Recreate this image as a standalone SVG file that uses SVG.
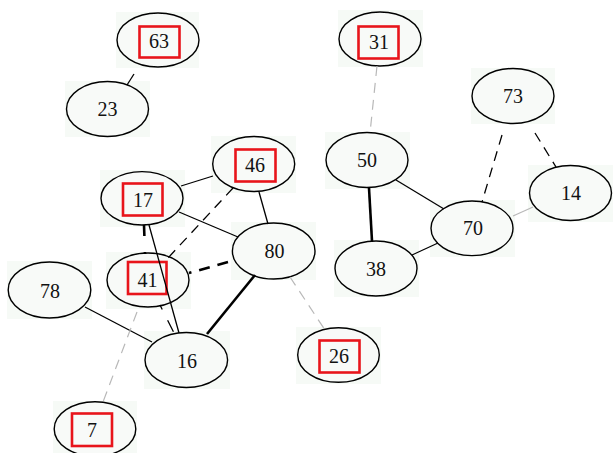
<svg xmlns="http://www.w3.org/2000/svg" width="613" height="453" viewBox="0 0 613 453">
<style>
.bg{fill:#f6faf6;stroke:none}
.n ellipse{fill:#f8faf8;stroke:#000;stroke-width:1.4}
.n text{font-family:"Liberation Serif","Times New Roman",serif;font-size:20px;fill:#111;text-anchor:middle}
.box{fill:none;stroke:#e8141b;stroke-width:2.6}
.e{stroke:#000;stroke-width:1.3;fill:none}
.thick{stroke-width:2.6}
.dash{stroke-dasharray:10,7}
.gray{stroke:#b8b8b8;stroke-width:1.2}
</style>
<rect width="613" height="453" fill="#fff"/>
<g id="nodes">
<g id="n63"><rect class="bg" x="116" y="12" width="83" height="56"/><g class="n"><ellipse cx="158" cy="40" rx="41" ry="27"/><text x="159" y="48">63</text></g><rect class="box" x="139.5" y="26.5" width="40" height="31"/></g>
<g id="n23"><rect class="bg" x="65" y="81" width="85" height="56"/><g class="n"><ellipse cx="107.5" cy="109" rx="41" ry="27.5"/><text x="107.5" y="116">23</text></g></g>
<g id="n31"><rect class="bg" x="338" y="10" width="85" height="57"/><g class="n"><ellipse cx="380" cy="39" rx="41" ry="27"/><text x="379" y="49">31</text></g><rect class="box" x="358.5" y="26.5" width="40" height="32"/></g>
<g id="n73"><rect class="bg" x="471" y="68" width="84" height="56"/><g class="n"><ellipse cx="513" cy="96" rx="41" ry="27.5"/><text x="513" y="103">73</text></g></g>
<g id="n46"><rect class="bg" x="211" y="136" width="85" height="57"/><g class="n"><ellipse cx="253.7" cy="164" rx="41" ry="27.5"/><text x="255" y="172">46</text></g><rect class="box" x="235.5" y="149.5" width="40" height="32"/></g>
<g id="n50"><rect class="bg" x="325" y="132" width="85" height="57"/><g class="n"><ellipse cx="367" cy="160" rx="41" ry="27.5"/><text x="367" y="167">50</text></g></g>
<g id="n14"><rect class="bg" x="528" y="165" width="85" height="57"/><g class="n"><ellipse cx="570.5" cy="193" rx="41" ry="27.5"/><text x="571" y="200">14</text></g></g>
<g id="n17"><rect class="bg" x="100" y="170" width="85" height="57"/><g class="n"><ellipse cx="142" cy="198.3" rx="41" ry="26.7"/><text x="143" y="207">17</text></g><rect class="box" x="123" y="183.5" width="39.5" height="32"/></g>
<g id="n70"><rect class="bg" x="430" y="200" width="85" height="57"/><g class="n"><ellipse cx="472" cy="228.3" rx="41" ry="27.3"/><text x="473" y="235">70</text></g></g>
<g id="n80"><rect class="bg" x="231" y="222" width="85" height="58"/><g class="n"><ellipse cx="273.7" cy="251" rx="41.3" ry="28"/><text x="274.5" y="258">80</text></g></g>
<g id="n38"><rect class="bg" x="334" y="240" width="85" height="57"/><g class="n"><ellipse cx="376" cy="268.5" rx="41" ry="27.5"/><text x="376" y="276">38</text></g></g>
<g id="n41"><rect class="bg" x="106" y="252" width="85" height="57"/><g class="n"><ellipse cx="148" cy="280" rx="41" ry="27"/><text x="147.5" y="287">41</text></g><rect class="box" x="128" y="262" width="38.5" height="32"/></g>
<g id="n78"><rect class="bg" x="7" y="261" width="85" height="58"/><g class="n"><ellipse cx="49.5" cy="290" rx="41.3" ry="28"/><text x="50" y="298">78</text></g></g>
<g id="n16"><rect class="bg" x="144" y="331" width="86" height="58"/><g class="n"><ellipse cx="186.3" cy="360" rx="41.3" ry="27.5"/><text x="187" y="368">16</text></g></g>
<g id="n26"><rect class="bg" x="296" y="327" width="85" height="57"/><g class="n"><ellipse cx="338.5" cy="355" rx="40.8" ry="27.3"/><text x="339" y="363">26</text></g><rect class="box" x="319.5" y="340.5" width="40" height="32"/></g>
<g id="n7"><rect class="bg" x="53" y="401" width="84" height="52"/><g class="n"><ellipse cx="95" cy="429" rx="40.8" ry="27.3"/><text x="92" y="437">7</text></g><rect class="box" x="72" y="413.5" width="40" height="32.5"/></g>
</g>
<g id="connectors">
<line class="e" x1="134" y1="74" x2="127" y2="85"/>
<line class="e gray dash" x1="377" y1="66" x2="370" y2="133"/>
<line class="e dash" stroke-width="1.5" x1="502" y1="135" x2="482" y2="202"/>
<line class="e dash" stroke-width="1.5" x1="535" y1="133" x2="556" y2="167"/>
<line class="e" x1="396" y1="180" x2="444" y2="209"/>
<line class="e thick" x1="369" y1="188" x2="372" y2="241"/>
<line class="e" x1="438" y1="243" x2="412" y2="255"/>
<line class="e gray" x1="513" y1="216" x2="533" y2="207"/>
<line class="e" x1="181" y1="186" x2="213" y2="176"/>
<line class="e" x1="259" y1="192" x2="268" y2="224"/>
<line class="e" x1="179" y1="212" x2="238" y2="237"/>
<line class="e dash" x1="233" y1="188" x2="168" y2="258"/>
<line class="e thick" stroke-dasharray="11,8" x1="228" y1="262" x2="189" y2="273"/>
<line class="e thick" stroke-dasharray="11,16" x1="144" y1="225" x2="145" y2="254"/>
<line class="e" x1="149" y1="225" x2="179" y2="333"/>
<line class="e" stroke-dasharray="5,12,13" x1="160" y1="305" x2="174" y2="333"/>
<line class="e thick" x1="255" y1="275" x2="207" y2="334"/>
<line class="e" x1="85" y1="307" x2="152" y2="342"/>
<line class="e gray dash" x1="290" y1="277" x2="325" y2="330"/>
<line class="e gray dash" x1="137" y1="312" x2="103" y2="402"/>
</g>
</svg>
